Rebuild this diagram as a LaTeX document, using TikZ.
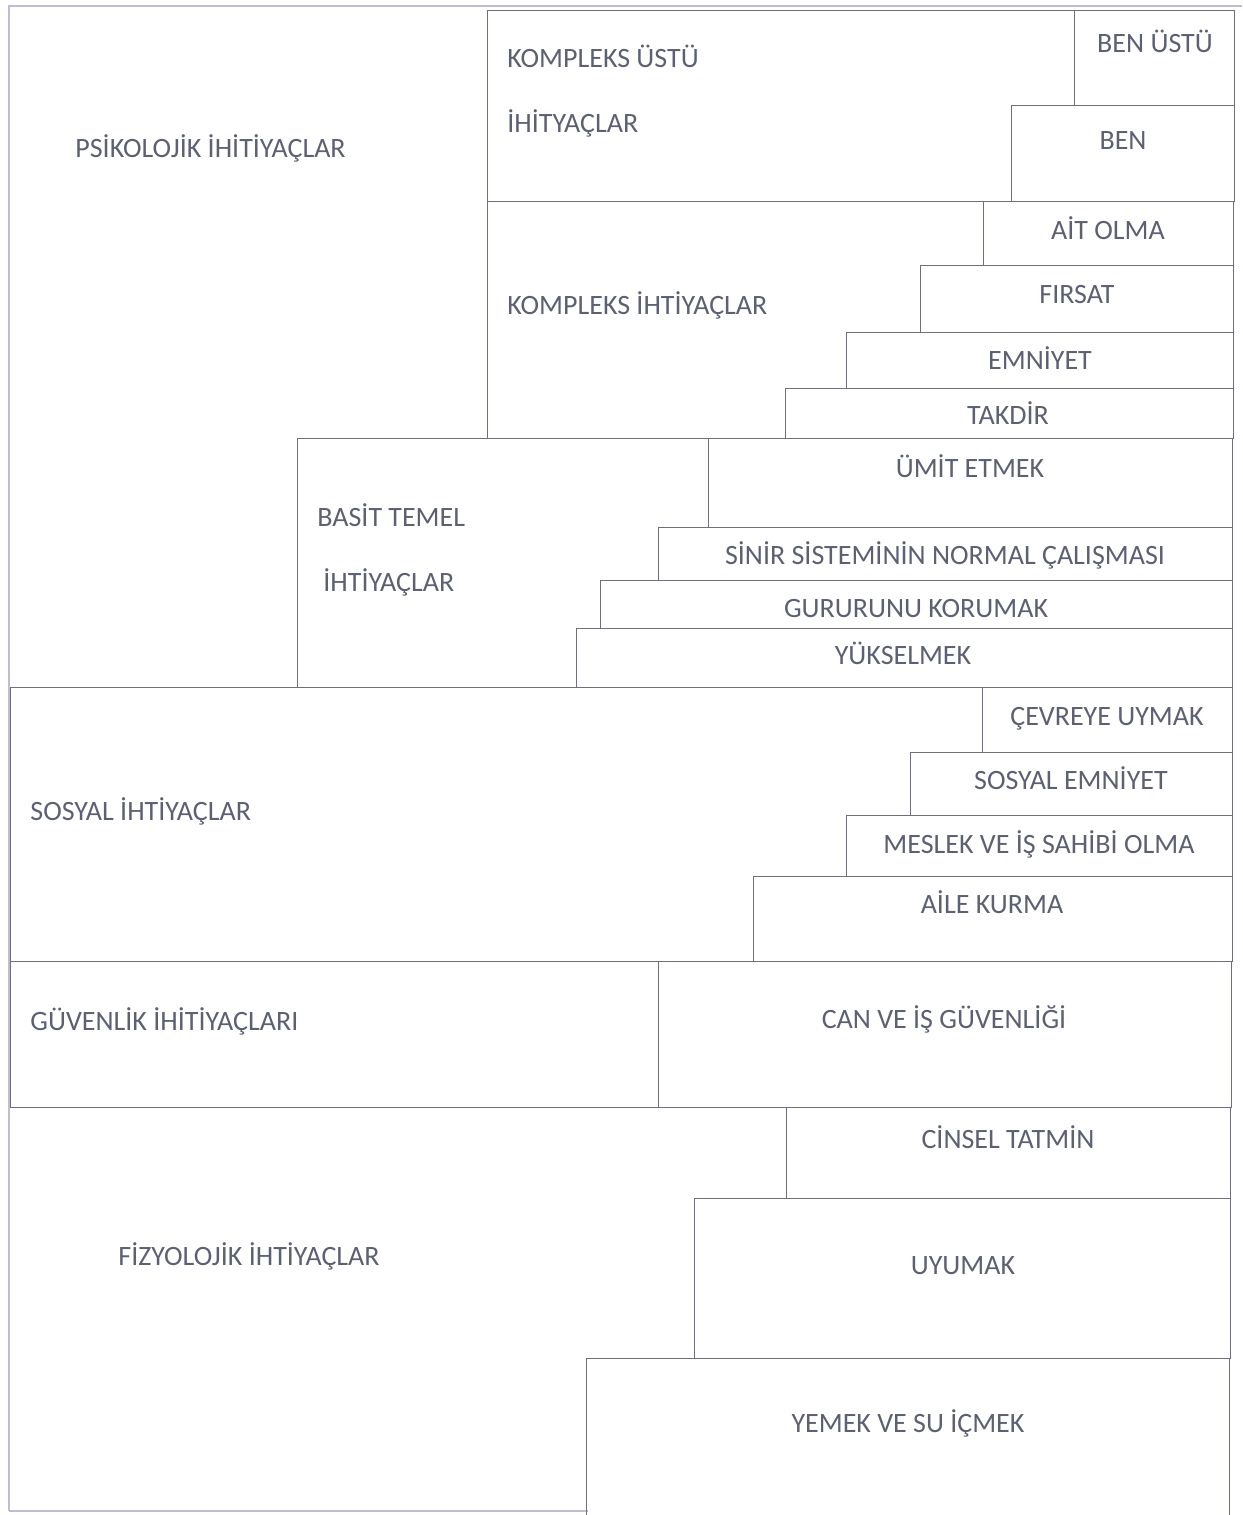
\documentclass[tikz,border=0pt]{standalone}
\usepackage{fontspec}
\setmainfont{Carlito}
\definecolor{txt}{RGB}{92,96,114}
\definecolor{ln}{RGB}{110,110,125}
\definecolor{edge}{RGB}{190,190,210}
\tikzset{
  cellline/.style={draw=ln, line width=0.45pt},
  pageedge/.style={draw=edge, line width=1.4pt},
  lbl/.style={text=txt, inner sep=0pt, anchor=base, font=\fontsize{14pt}{16pt}\selectfont},
  lbll/.style={lbl, anchor=base west}
}
\newcommand\cellrect[4]{\draw[cellline] (#1,#2) rectangle (#3,#4);}
\begin{document}
\begin{tikzpicture}[x=0.5pt,y=-0.5pt]
\useasboundingbox (0,0) rectangle (1242,1515);
% page edges of scan
\draw[pageedge] (9,1511) -- (9,6) -- (1242,6);
\draw[pageedge] (9,1511) -- (588,1511);
% top block
\cellrect{487}{10}{1234}{201}
\cellrect{1074}{10}{1234}{105}
\cellrect{1011}{105}{1234}{201}
% kompleks
\cellrect{487}{201}{1233}{438}
\cellrect{983}{201}{1233}{265}
\cellrect{920}{265}{1233}{332}
\cellrect{846}{332}{1233}{388}
\cellrect{785}{388}{1233}{438}
% basit temel
\cellrect{297}{438}{1232}{687}
\cellrect{708}{438}{1232}{527}
\cellrect{658}{527}{1232}{580}
\cellrect{600}{580}{1232}{628}
\cellrect{576}{628}{1232}{687}
% sosyal
\cellrect{10}{687}{1232}{961}
\cellrect{982}{687}{1232}{752}
\cellrect{910}{752}{1232}{815}
\cellrect{846}{815}{1232}{876}
\cellrect{753}{876}{1232}{961}
% guvenlik
\cellrect{10}{961}{658}{1107}
\cellrect{658}{961}{1231}{1107}
% fizyolojik
\draw[cellline] (10,1107) -- (1230,1107) -- (1230,1358);
\cellrect{786}{1107}{1230}{1198}
\cellrect{694}{1198}{1230}{1358}
\draw[cellline] (586,1515) -- (586,1358) -- (1229,1358) -- (1229,1515);
% labels
\node[lbll] (psi) at (75,157) {PSİKOLOJİK İHİTİYAÇLAR};
\node[lbll] (kus1) at (507,67) {KOMPLEKS ÜSTÜ};
\node[lbll] (kus2) at (507,132) {İHİTYAÇLAR};
\node[lbl] (benustu) at (1155,52) {BEN ÜSTÜ};
\node[lbl] (ben) at (1123,149) {BEN};
\node[lbll] (kom) at (507,314) {KOMPLEKS İHTİYAÇLAR};
\node[lbl] (ait) at (1108,239) {AİT OLMA};
\node[lbl] (firsat) at (1077,303) {FIRSAT};
\node[lbl] (emniyet) at (1040,369) {EMNİYET};
\node[lbl] (takdir) at (1008,424) {TAKDİR};
\node[lbll] (bas1) at (317,526) {BASİT TEMEL};
\node[lbll] (bas2) at (323,591) {İHTİYAÇLAR};
\node[lbl] (umit) at (970,477) {ÜMİT ETMEK};
\node[lbl] (sinir) at (945,564) {SİNİR SİSTEMİNİN NORMAL ÇALIŞMASI};
\node[lbl] (gurur) at (916,617) {GURURUNU KORUMAK};
\node[lbl] (yuksel) at (903,664) {YÜKSELMEK};
\node[lbll] (sosyal) at (30,820) {SOSYAL İHTİYAÇLAR};
\node[lbl] (cevre) at (1107,725) {ÇEVREYE UYMAK};
\node[lbl] (semn) at (1071,789) {SOSYAL EMNİYET};
\node[lbl] (meslek) at (1039,853) {MESLEK VE İŞ SAHİBİ OLMA};
\node[lbl] (aile) at (992,913) {AİLE KURMA};
\node[lbll] (guv) at (30,1030) {GÜVENLİK İHİTİYAÇLARI};
\node[lbl] (can) at (944,1028) {CAN VE İŞ GÜVENLİĞİ};
\node[lbll] (fiz) at (118,1265) {FİZYOLOJİK İHTİYAÇLAR};
\node[lbl] (cinsel) at (1008,1148) {CİNSEL TATMİN};
\node[lbl] (uyumak) at (963,1274) {UYUMAK};
\node[lbl] (yemek) at (908,1432) {YEMEK VE SU İÇMEK};
\end{tikzpicture}
\end{document}
